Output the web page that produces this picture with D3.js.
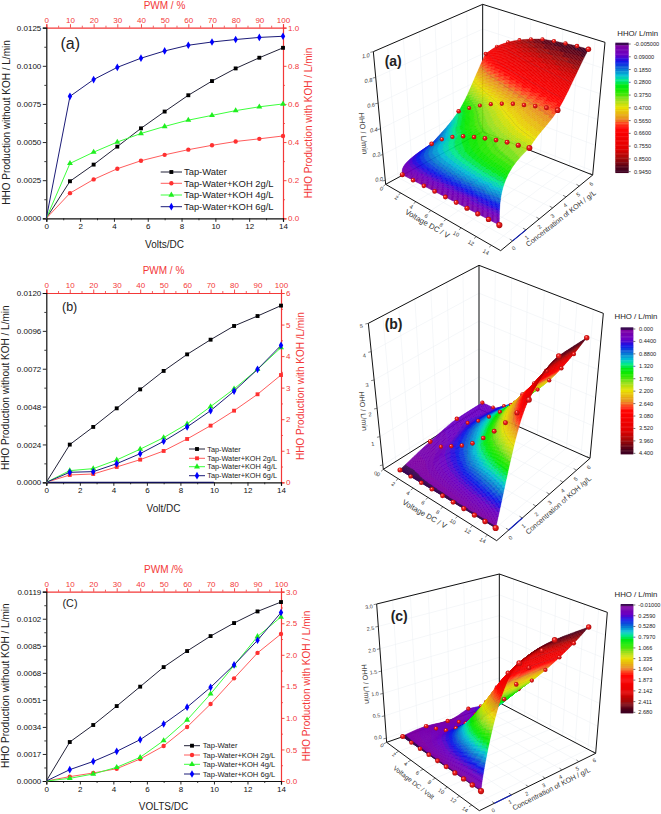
<!DOCTYPE html>
<html><head><meta charset="utf-8">
<script src="https://cdn.jsdelivr.net/npm/d3@7"></script>
<style>
html,body{margin:0;padding:0;background:#fff}
svg{display:block}
text{font-family:"Liberation Sans",Arial,sans-serif}
</style></head><body>
<svg id="c" width="661" height="814" xmlns="http://www.w3.org/2000/svg"></svg>
<script>
// ---------- data ----------
const voltage = [0,1.4,2.8,4.2,5.6,7,8.4,9.8,11.2,12.6,14];
const concentrations = [0,2,4,6];
const seriesNames = ["Tap-Water","Tap-Water+KOH 2g/L","Tap-Water+KOH 4g/L","Tap-Water+KOH 6g/L"];
const voltTicks = [0,2,4,6,8,10,12,14];
const pwmTicks = [0,10,20,30,40,50,60,70,80,90,100];

const tapA  = [0,.00243,.00352,.0047,.0059,.007,.00807,.009,.00983,.01053,.01118];
const koh2A = [0,.132,.204,.26,.302,.333,.36,.383,.403,.417,.432];
const koh4A = [0,.288,.347,.4,.445,.482,.515,.54,.565,.585,.6];
const koh6A = [0,.64,.728,.792,.84,.878,.908,.925,.938,.949,.955];

const tapB  = [0,.00239,.00351,.00469,.00589,.00706,.00811,.00904,.00991,.01054,.0112];
const koh2B = [0,.232,.264,.486,.718,.993,1.373,1.796,2.27,2.79,3.40];
const koh4B = [0,.37,.433,.708,1.05,1.415,1.85,2.4,2.96,3.58,4.27];
const koh6B = [0,.317,.338,.59,.908,1.3,1.754,2.27,2.89,3.58,4.34];

const tapC  = [0,.00245,.00352,.00471,.00593,.00716,.00817,.00911,.00993,.01066,.01125];
const koh2C = [0,.069,.127,.195,.349,.555,.856,1.22,1.627,2.03,2.33];
const koh4C = [0,.042,.111,.217,.375,.64,.967,1.38,1.83,2.29,2.6];
const koh6C = [0,.18,.31,.47,.655,.903,1.17,1.484,1.84,2.23,2.67];

const leftTicksA = [0,.0025,.005,.0075,.01,.0125];
const leftTicksB = [0,.0024,.0048,.0072,.0096,.012];
const leftTicksC = [0,.0017,.0034,.0051,.0068,.0085,.0102,.0119];
const rightTicksA = [0,.2,.4,.6,.8,1];
const rightTicksB = [0,1,2,3,4,5,6];
const rightTicksC = [0,.5,1,1.5,2,2.5,3];

const colorTicksA = ["-0.005000","0.09000","0.1850","0.2800","0.3750","0.4700","0.5650","0.6600","0.7550","0.8500","0.9450"];
const colorTicksB = ["0.000","0.4400","0.8800","1.320","1.760","2.200","2.640","3.080","3.520","3.960","4.400"];
const colorTicksC = ["-0.01000","0.2590","0.5280","0.7970","1.066","1.335","1.604","1.873","2.142","2.411","2.680"];
const zTicksA = [0,.2,.4,.6,.8,1];
const zTicksB = [0,1,2,3,4,5];
const zTicksC = [0,.5,1,1.5,2,2.5,3];

// ---------- styles ----------
const RED = "#f33838";
const lineCols = ["#222238","#ff5c5c","#3cff3c","#1c1c78"];
const markCols = ["#000","#ff3030","#1fee1f","#0000ff"];
const colorStops = [[0,"#3a0a50"],[.02,"#7c00a4"],[.09,"#6a00c4"],[.14,"#1010e8"],[.2,"#0a70d4"],[.255,"#00c0d4"],[.29,"#00e890"],[.34,"#00e800"],[.385,"#30e800"],[.43,"#90e020"],[.5,"#e8e000"],[.59,"#e89020"],[.63,"#ff4020"],[.67,"#ff0000"],[.82,"#e00000"],[.9,"#a00808"],[.97,"#500018"],[1,"#400020"]];
const rampScale = d3.scaleLinear().domain(colorStops.map(d=>d[0])).range(colorStops.map(d=>d[1])).clamp(true);
const ramp = t => rampScale(Math.round(Math.max(0,Math.min(1,t))*48)/48);

const svg = d3.select("#c");
const defs = svg.append("defs");
const grad = defs.append("radialGradient").attr("id","ball").attr("cx",.5).attr("cy",.5).attr("r",.55).attr("fx",.36).attr("fy",.3);
grad.append("stop").attr("offset",0).attr("stop-color","#ffd0c0");
grad.append("stop").attr("offset",.35).attr("stop-color","#f52020");
grad.append("stop").attr("offset",1).attr("stop-color","#a00808");

function txt(g,x,y,s,o={}){
  const t=g.append("text").attr("x",x).attr("y",y).text(s)
    .attr("font-size",o.size||10).attr("fill",o.fill||"#222")
    .attr("text-anchor",o.anchor||"middle");
  if(o.rot!==undefined) t.attr("transform",`rotate(${o.rot} ${x} ${y})`);
  if(o.weight) t.attr("font-weight",o.weight);
  if(o.style) t.attr("font-style",o.style);
  return t;
}

// ---------- 2D panels ----------
function panel2D(cfg){
  const g=svg.append("g");
  const x=d3.scaleLinear().domain([0,14]).range([cfg.l,cfg.r]);
  const xTop=d3.scaleLinear().domain([0,100]).range([cfg.l,cfg.r]);
  const yL=d3.scaleLinear().domain([0,cfg.leftTicks[cfg.leftTicks.length-1]]).range([cfg.b,cfg.t]);
  const yR=d3.scaleLinear().domain([0,cfg.rightTicks[cfg.rightTicks.length-1]]).range([cfg.b,cfg.t]);
  const mids=a=>d3.pairs(a).map(p=>(p[0]+p[1])/2);
  function axis(maker,scale,ticks,fmt,col,tr){
    const a=g.append("g").attr("transform",tr).call(maker(scale).tickValues(ticks).tickFormat(fmt).tickSize(3.5).tickPadding(1.5));
    a.selectAll("text").attr("font-size",8).attr("fill",col).style("font-family",'"Liberation Sans",Arial,sans-serif');
    a.selectAll("line").attr("stroke",col).attr("stroke-width",.9);
    a.select(".domain").attr("stroke",col).attr("stroke-width",1.2);
    const m=g.append("g").attr("transform",tr).call(maker(scale).tickValues(mids(ticks)).tickFormat("").tickSize(2));
    m.selectAll("line").attr("stroke",col).attr("stroke-width",.8);
    m.select(".domain").remove();
  }
  axis(d3.axisTop,xTop,pwmTicks,d3.format("d"),RED,`translate(0,${cfg.t})`);
  axis(d3.axisRight,yR,cfg.rightTicks,d3.format(cfg.rightFmt),RED,`translate(${cfg.r},0)`);
  axis(d3.axisBottom,x,voltTicks,d3.format("d"),"#111",`translate(0,${cfg.b})`);
  axis(d3.axisLeft,yL,cfg.leftTicks,d3.format(".4f"),"#111",`translate(${cfg.l},0)`);

  if(cfg.stray) g.append("line").attr("x1",x(0)).attr("x2",x(cfg.stray)).attr("y1",cfg.b).attr("y2",cfg.b).attr("stroke","#10105a").attr("stroke-width",1.2);

  const series=[cfg.tap,cfg.k2,cfg.k4,cfg.k6];
  const syms=[d3.symbolSquare,cfg.redSym,d3.symbolTriangle,d3.symbolDiamond];
  const sizes=[15,15,15,17];
  series.forEach((vals,i)=>{
    const y=i===0?yL:yR;
    g.append("path").datum(vals).attr("fill","none").attr("stroke",lineCols[i]).attr("stroke-width",1)
      .attr("d",d3.line().x((d,k)=>x(voltage[k])).y(d=>y(d)));
    g.selectAll(null).data(vals.slice(1)).join("path")
      .attr("transform",(d,k)=>`translate(${x(voltage[k+1])},${y(d)})`)
      .attr("d",d3.symbol().type(syms[i]).size(sizes[i])).attr("fill",markCols[i]);
    const ly=cfg.leg.ys[i];
    g.append("line").attr("x1",cfg.leg.x0).attr("x2",cfg.leg.x1).attr("y1",ly).attr("y2",ly).attr("stroke",lineCols[i]).attr("stroke-width",1);
    g.append("path").attr("transform",`translate(${(cfg.leg.x0+cfg.leg.x1)/2},${ly})`)
      .attr("d",d3.symbol().type(syms[i]).size(sizes[i])).attr("fill",markCols[i]);
    txt(g,cfg.leg.tx,ly+cfg.leg.size*.36,seriesNames[i],{size:cfg.leg.size,anchor:"start"});
  });
  txt(g,cfg.titleX,cfg.pwmY,cfg.pwm,{fill:RED});
  txt(g,cfg.titleX,cfg.xY,cfg.xTitle);
  txt(g,cfg.yLX,cfg.yLY,"HHO Production without KOH / L/min",{rot:-90});
  txt(g,cfg.yRX,cfg.yRY,cfg.yRTitle,{rot:-90,fill:RED});
  txt(g,cfg.tagX,cfg.tagY,cfg.tag,{size:cfg.tagSize,anchor:"start"});
}
const commonLR={l:46.3,r:281};
panel2D({l:46.3,r:283,t:27.7,b:218.3,tap:tapA,k2:koh2A,k4:koh4A,k6:koh6A,leftTicks:leftTicksA,rightTicks:rightTicksA,rightFmt:".1f",
  redSym:d3.symbolCircle,stray:0,pwm:"PWM / %",xTitle:"Volts/DC",yRTitle:"HHO Production with KOH / L/min",
  titleX:164.5,pwmY:9,xY:248,yLX:10,yLY:122.5,yRX:312,yRY:123,tag:"(a)",tagX:60.5,tagY:49,tagSize:16,
  leg:{x0:160.7,x1:182,tx:184,size:9.4,ys:[172,183.3,195,206.7]}});
panel2D({...commonLR,t:293,b:482.3,tap:tapB,k2:koh2B,k4:koh4B,k6:koh6B,leftTicks:leftTicksB,rightTicks:rightTicksB,rightFmt:"d",
  redSym:d3.symbolSquare,stray:10,pwm:"PWM / %",xTitle:"Volt/DC",yRTitle:"HHO Production with KOH /L/min",
  titleX:163.5,pwmY:274,xY:511.5,yLX:9.5,yLY:387.7,yRX:303.5,yRY:386,tag:"(b)",tagX:62,tagY:311,tagSize:12.5,
  leg:{x0:189,x1:205,tx:207.3,size:7.3,ys:[449,458.3,466.7,475.7]}});
panel2D({...commonLR,t:591.7,b:781,tap:tapC,k2:koh2C,k4:koh4C,k6:koh6C,leftTicks:leftTicksC,rightTicks:rightTicksC,rightFmt:".1f",
  redSym:d3.symbolCircle,stray:0,pwm:"PWM /%",xTitle:"VOLTS/DC",yRTitle:"HHO Production with KOH / L/min",
  titleX:163.5,pwmY:572.5,xY:809.5,yLX:9.5,yLY:685.7,yRX:310,yRY:686,tag:"(C)",tagX:62.5,tagY:607,tagSize:10.8,
  leg:{x0:184,x1:200,tx:202.7,size:7.6,ys:[745.7,755,764.3,774]}});

// ---------- 3D panels ----------
function hermite(xs,ys){
  const n=xs.length,d=[],m=[];
  for(let i=0;i<n-1;i++) d.push((ys[i+1]-ys[i])/(xs[i+1]-xs[i]));
  m[0]=d[0];m[n-1]=d[n-2];
  for(let i=1;i<n-1;i++) m[i]=d[i-1]*d[i]<=0?0:2*d[i-1]*d[i]/(d[i-1]+d[i]);
  return x=>{
    let i=Math.min(n-2,Math.max(0,d3.bisectRight(xs,x)-1));
    const h=xs[i+1]-xs[i],t=(x-xs[i])/h,t2=t*t,t3=t2*t;
    return (2*t3-3*t2+1)*ys[i]+(t3-2*t2+t)*h*m[i]+(-2*t3+3*t2)*ys[i+1]+(t3-t2)*h*m[i+1];
  };
}
const lerp=(a,b,t)=>[a[0]+(b[0]-a[0])*t,a[1]+(b[1]-a[1])*t];

function panel3D(cfg){
  const g=svg.append("g");
  const P=p=>[340+p[0]/3,cfg.oy+p[1]/3];
  const F=cfg.frame, S=cfg.surf;
  const seg=(a,b,col="#111",w=1)=>g.append("line").attr("x1",P(a)[0]).attr("y1",P(a)[1]).attr("x2",P(b)[0]).attr("y2",P(b)[1]).attr("stroke",col).attr("stroke-width",w);
  const zMax=cfg.zTicks[cfg.zTicks.length-1];
  const fV=d3.scaleLinear().domain([0,14]).range([0,.92]);
  const fC=d3.scaleLinear().domain([0,6]).range([.13,1]);
  const fZ=d3.scaleLinear().domain([0,zMax]).range([.03,1]);
  const grid="#eaeff3";
  // walls and floor
  voltTicks.forEach(v=>{const t=fV(v);
    seg(lerp(F.A,F.B,t),lerp(F.D,F.C,t),grid,.5);
    seg(lerp(F.D,F.C,t),lerp(F.Dp,F.Cp,t),grid,.5);});
  concentrations.concat([1,3,5]).forEach(c=>{const t=fC(c);
    seg(lerp(F.A,F.D,t),lerp(F.B,F.C,t),grid,.5);
    seg(lerp(F.A,F.D,t),lerp(F.Ap,F.Dp,t),grid,.5);});
  cfg.zTicks.forEach(z=>{const t=fZ(z);
    seg(lerp(F.A,F.Ap,t),lerp(F.D,F.Dp,t),grid,.5);
    seg(lerp(F.D,F.Dp,t),lerp(F.C,F.Cp,t),grid,.5);});
  [[F.A,F.Ap],[F.Ap,F.Dp],[F.Dp,F.Cp],[F.Cp,F.C],[F.Dp,F.D],[F.A,F.B],[F.B,F.C],[F.D,F.C],[F.A,F.D]].forEach(e=>seg(e[0],e[1],"#111",1));
  // axis ticks
  const vdir=[-F.B[0]+F.C[0],-F.B[1]+F.C[1]], cdir=[F.A[0]-F.B[0],F.A[1]-F.B[1]];
  voltTicks.forEach(v=>{const p=lerp(F.A,F.B,fV(v));seg(p,[p[0]-vdir[0]*.025,p[1]-vdir[1]*.025],"#333",.6);});
  d3.range(0,7).forEach(c=>{const p=lerp(F.B,F.C,fC(c));seg(p,[p[0]+cdir[0]*.025,p[1]+cdir[1]*.025],"#333",.6);});
  cfg.zTicks.forEach(z=>{const p=lerp(F.A,F.Ap,fZ(z));seg(p,[p[0]-9,p[1]+2],"#333",.6);});
  seg(lerp(F.B,F.C,fC(0)),lerp(F.B,F.C,fC(1)),"#1020c0",1.1);
  // tick labels
  const lab=(vals,fmt,a,b,lo,hi,rot,style)=>{
    const sx=d3.scaleLinear().domain([lo,hi]).range([a[0],b[0]]),sy=d3.scaleLinear().domain([lo,hi]).range([a[1],b[1]]);
    vals.forEach(v=>{const p=P([sx(v),sy(v)]);txt(g,p[0],p[1]+2,fmt(v),{size:cfg.tickSize,fill:"#333",rot,style});});
  };
  lab(voltTicks,d3.format("d"),cfg.vLab[0],cfg.vLab[1],0,14,cfg.vRot);
  lab(d3.range(0,7),d3.format("d"),cfg.cLab[0],cfg.cLab[1],0,6,cfg.cRot);
  lab(cfg.zTicks,d3.format(cfg.zFmt),cfg.zLab[0],cfg.zLab[1],0,zMax,-8,cfg.zStyle);
  const ttl=(c,s,rot,size)=>{const p=P(c);txt(g,p[0],p[1]+2,s,{size,fill:"#333",rot});};
  ttl(cfg.vTitle.at,cfg.vTitle.s,cfg.vTitle.rot,cfg.vTitle.size);
  ttl(cfg.cTitle.at,cfg.cTitle.s,cfg.cTitle.rot,cfg.cTitle.size);
  ttl(cfg.zTitle.at,"HHO / L/min",85,cfg.zTitle.size);
  const tp=P(cfg.tag.at);
  txt(g,tp[0],tp[1],cfg.tag.s,{size:14,weight:"bold",anchor:"start"});

  // surface: rows of the grid are the measured series at each KOH concentration
  const vs=voltage.slice(1);
  const rows=cfg.rows.map(r=>r.slice(1));
  const rowFns=rows.map(r=>hermite(vs,r));
  const sv=d3.scaleLinear().domain([1.4,14]).range([0,1]);
  const sc=d3.scaleLinear().domain([0,6]).range([0,1]);
  const sz=d3.scaleLinear().domain([0,zMax]).range([0,1]);
  const proj=(v,c,z)=>{
    const u=sv(v),w=Math.pow(sc(c),cfg.warp),t=sz(z);
    const bot=lerp(lerp(S.b00,S.b10,u),lerp(S.b01,S.b11,u),w);
    const top=lerp(lerp(S.t00,S.t10,u),lerp(S.t01,S.t11,u),w);
    return P(lerp(bot,top,t));
  };
  const cParam=c=>c<2?Math.pow(c/2,cfg.gamma):c/2;
  const nodes=[0,1,2,3];
  const zAt=(v,c)=>{
    const f=hermite(nodes,rowFns.map(fn=>fn(v)));
    return f(cParam(c));
  };
  const NV=78,NC=88;
  const vGrid=d3.range(NV+1).map(i=>1.4+12.6*i/NV);
  const cGrid=d3.range(NC+1).map(i=>6*Math.pow(i/NC,2));
  const Z=cGrid.map(c=>vGrid.map(v=>zAt(v,c)));
  const colS=d3.scaleLinear().domain(cfg.colDomain).range([0,1]);
  const levels=cfg.colorTicks.map(Number);
  const surf=g.append("g");
  const drawBall=d=>{
    const p=proj(d.v,d.c,d.z);
    const r=1.75+1.0*(sv(d.v)*.6+(1-sc(d.c))*.4)+(d.v===14||d.v===1.4?.35:0);
    surf.append("circle").attr("cx",p[0]).attr("cy",p[1]).attr("r",r).attr("fill","url(#ball)");
  };
  for(let j=NC-1;j>=0;j--){
    for(let i=0;i<NV;i++){
      const vv=[[i,j],[i+1,j],[i+1,j+1],[i,j+1]];
      const q=vv.map(a=>proj(vGrid[a[0]],cGrid[a[1]],Z[a[1]][a[0]]));
      const zs=vv.map(a=>Z[a[1]][a[0]]);
      const col=ramp(colS(d3.mean(zs)));
      surf.append("path").attr("d","M"+q.join("L")+"Z").attr("fill",col).attr("stroke",col).attr("stroke-width",.35);
      levels.slice(1,-1).forEach(L=>{
        const cuts=[];
        for(let e=0;e<4;e++){const a=zs[e],b=zs[(e+1)%4];
          if((a<L)!==(b<L)) cuts.push(lerp(q[e],q[(e+1)%4],(L-a)/(b-a)));}
        if(cuts.length===2) surf.append("path").attr("d","M"+cuts.join("L")).attr("fill","none").attr("stroke","#4a5a78").attr("stroke-opacity",.55).attr("stroke-width",.4);
      });
    }
    // a row of spheres goes on once the surface just in front of it has been painted
    concentrations.forEach((c,ci)=>{
      const at=c*cfg.ballLead;
      if(cGrid[j]<=at && at<cGrid[j+1]) rows[ci].forEach((z,vi)=>drawBall({v:vs[vi],c,z}));
    });
  }

  // colour bar
  const cb=cfg.bar, a=P([cb.x0,cb.y0]), b=P([cb.x1,cb.y1]);
  const bandY=d3.scaleLinear().domain([0,1]).range([a[1],b[1]]);
  d3.range(0,100).forEach(i=>{
    g.append("rect").attr("x",a[0]).attr("width",b[0]-a[0]).attr("y",bandY(i/100)).attr("height",bandY(.01)-bandY(0)+.4).attr("fill",ramp(i/99));
  });
  const tickY=d3.scaleLinear().domain([0,cfg.colorTicks.length-1]).range([P([0,cb.lab0])[1],P([0,cb.lab1])[1]]);
  cfg.colorTicks.forEach((s,i)=>{
    const y=tickY(i);
    g.append("line").attr("x1",b[0]).attr("x2",b[0]+2).attr("y1",y).attr("y2",y).attr("stroke",i===3?"#1020c0":"#333").attr("stroke-width",.7);
    txt(g,P([cb.lx,0])[0],y+2,s,{size:5.6,anchor:"start",fill:"#222"});
  });
  const tc=P(cb.title);
  txt(g,tc[0],tc[1]+2.5,cb.titleText,{size:7.8,fill:"#222"});
}

panel3D({oy:0,rows:[tapA,koh2A,koh4A,koh6A],zTicks:zTicksA,zFmt:".1f",zStyle:"italic",colorTicks:colorTicksA,colDomain:[-.005,.945],gamma:.28,warp:.92,ballLead:0,tickSize:5.6,
  frame:{A:[137,553],B:[482,752],C:[758,525],D:[428,395],Ap:[100,155],Dp:[428,13],Cp:[795,127]},
  surf:{b00:[187,525],b10:[478,680],b01:[437,411],b11:[710,528],t00:[150,127],t10:[478,250],t01:[437,21],t11:[747,130]},
  vLab:[[122,565],[435,755]],cLab:[[525,743],[757,550]],zLab:[[118,538],[78,167]],vRot:30,cRot:-40,
  vTitle:{at:[258,672],s:"Voltage DC / V",rot:30,size:7.6},cTitle:{at:[667,655],s:"Concentration of KOH / g/L",rot:-38,size:7.2},zTitle:{at:[62,395],size:7.6},
  tag:{s:"(a)",at:[134,198]},
  bar:{x0:826,y0:128,x1:866,y1:518,lab0:132,lab1:515,lx:882,title:[893,100],titleText:"HHO/ L/min"}});
panel3D({oy:270,rows:[tapB,koh2B,koh4B,koh6B],zTicks:zTicksB,zFmt:"d",zStyle:null,colorTicks:colorTicksB,colDomain:[0,4.4],gamma:.9,warp:.9,ballLead:.85,tickSize:5.6,
  frame:{A:[130,598],B:[470,812],C:[750,565],D:[417,417],Ap:[85,160],Dp:[417,-14],Cp:[790,130]},
  surf:{b00:[180,600],b10:[467,775],b01:[427,424],b11:[715,572],t00:[135,160],t10:[467,300],t01:[427,9],t11:[744,147]},
  vLab:[[112,612],[425,810]],cLab:[[515,802],[750,590]],zLab:[[108,610],[65,168]],vRot:30,cRot:-40,
  vTitle:{at:[250,733],s:"Voltage DC / V",rot:30,size:7.6},cTitle:{at:[660,705],s:"Concentration of KOH /g/L",rot:-41,size:7.2},zTitle:{at:[62,418],size:7.2},
  tag:{s:"(b)",at:[134,178]},
  bar:{x0:842,y0:172,x1:880,y1:552,lab0:177,lab1:550,lx:897,title:[888,140],titleText:"HHO / L/min"}});
panel3D({oy:544,rows:[tapC,koh2C,koh4C,koh6C],zTicks:zTicksC,zFmt:".1f",zStyle:null,colorTicks:colorTicksC,colDomain:[-.01,2.68],gamma:.7,warp:.93,ballLead:.85,tickSize:5.4,
  frame:{A:[140,595],B:[418,800],C:[767,628],D:[478,476],Ap:[110,180],Dp:[478,90],Cp:[802,205]},
  surf:{b00:[188,578],b10:[423,743],b01:[385,517],b11:[714,596],t00:[158,164],t10:[423,293],t01:[385,133],t11:[750,206]},
  vLab:[[123,603],[372,795]],cLab:[[462,798],[765,648]],zLab:[[115,580],[88,188]],vRot:36,cRot:-27,
  vTitle:{at:[217,715],s:"Voltage DC / Volt",rot:38,size:6.6},cTitle:{at:[637,735],s:"Concentration of KOH / g/L",rot:-27,size:7.2},zTitle:{at:[70,415],size:7.2},
  tag:{s:"(c)",at:[152,232]},
  bar:{x0:842,y0:180,x1:880,y1:507,lab0:183,lab1:505,lx:895,title:[888,150],titleText:"HHO / L/min"}});
</script>
</body></html>
